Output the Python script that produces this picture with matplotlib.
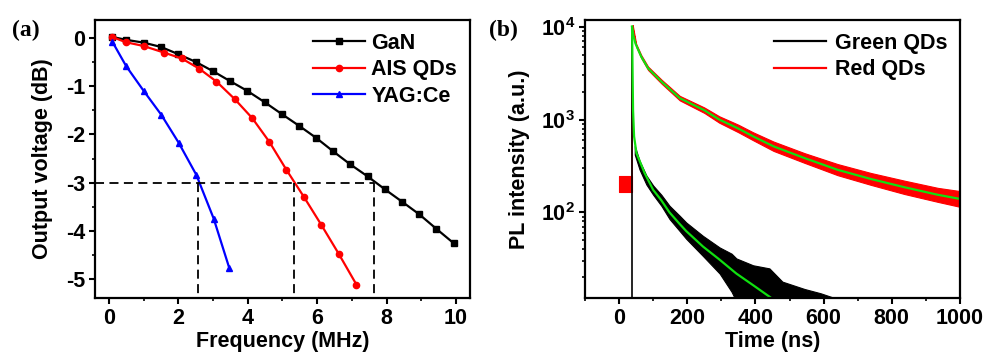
import numpy as np
import matplotlib
matplotlib.use("Agg")
import matplotlib.pyplot as plt
from matplotlib.ticker import MultipleLocator, LogLocator, NullFormatter, FixedLocator

plt.rcParams["font.family"] = ["Liberation Sans", "DejaVu Sans"]
plt.rcParams["font.weight"] = "bold"
plt.rcParams["axes.labelweight"] = "bold"
plt.rcParams["axes.unicode_minus"] = False
plt.rcParams["mathtext.fontset"] = "custom"
plt.rcParams["mathtext.rm"] = "Liberation Sans:bold"
plt.rcParams["mathtext.it"] = "Liberation Sans:bold"
plt.rcParams["mathtext.bf"] = "Liberation Sans:bold"

FS = 15.5

# (a) frequency response
gan_f = [0.09, 0.48, 1.0, 1.5, 2.0, 2.5, 2.99, 3.49, 3.98, 4.49, 4.99, 5.48, 5.97, 6.46,
         6.95, 7.45, 7.95, 8.45, 8.94, 9.43, 9.93]
gan_db = [0.03, -0.03, -0.09, -0.18, -0.33, -0.49, -0.68, -0.89, -1.09, -1.33, -1.58, -1.82,
          -2.07, -2.35, -2.62, -2.87, -3.14, -3.40, -3.66, -3.96, -4.26]
ais_f = [0.09, 0.48, 1.0, 1.6, 2.1, 2.6, 3.1, 3.62, 4.13, 4.62, 5.11, 5.62, 6.12, 6.62, 7.13]
ais_db = [0.03, -0.08, -0.16, -0.30, -0.42, -0.63, -0.90, -1.26, -1.66, -2.15, -2.73, -3.30,
          -3.88, -4.48, -5.12]
yag_f = [0.1, 0.5, 1.0, 1.51, 2.01, 2.52, 3.02, 3.47]
yag_db = [-0.07, -0.58, -1.09, -1.59, -2.17, -2.84, -3.75, -4.78]
cutoff_f = [2.57, 5.33, 7.65]
cutoff_db = -3

# (b) PL decay
red_pre_t = [0, 38]
red_pre_lo = [165, 165]
red_pre_hi = [245, 245]
red_rise_t = [38, 38]
red_rise_v = [200, 10000]
red_t = [40, 50, 65, 85, 124, 178, 250, 294, 350, 393, 453, 544, 641, 739, 837, 935, 1000]
red_lo = [9600, 6100, 4600, 3420, 2450, 1610, 1180, 925, 730, 600, 460, 342, 252, 198, 158, 130, 115]
red_hi = [10400, 6550, 4950, 3720, 2700, 1800, 1350, 1085, 880, 730, 580, 435, 332, 266, 220, 184, 170]
red_fit_t = [38, 42, 48, 65, 85, 124, 178, 250, 294, 350, 393, 453, 544, 641, 739, 837, 935, 1000]
red_fit = [10000, 8000, 6600, 4760, 3570, 2570, 1700, 1260, 1000, 800, 660, 515, 385, 288, 229,
           187, 155, 140]

green_rise_t = [38, 38]
green_rise_v = [1, 10000]
green_t = [46, 60, 80, 100, 124, 148, 178, 197, 246, 295, 330, 344, 393, 441, 479, 544, 591, 632]
green_lo = [420, 290, 200, 155, 118, 85, 63, 52, 34, 22, 14, 11, 10, 10, 10, 10, 10, 10]
green_hi = [520, 360, 250, 195, 155, 118, 92, 78, 56, 42, 36, 32, 27, 25, 18, 15, 13.5, 12]
green_fit_t = [38, 39.5, 41, 44, 51, 75, 100, 124, 148, 178, 197, 246, 295, 344, 393, 441, 460]
green_fit = [10000, 3500, 1260, 660, 435, 265, 175, 135, 100, 75, 63, 43, 31, 22, 16.5, 12.4, 11]

fig = plt.figure(figsize=(9.85, 3.58), dpi=100)
ax1 = fig.add_axes([0.0964, 0.1676, 0.3807, 0.7765])
ax2 = fig.add_axes([0.5939, 0.1676, 0.3807, 0.7765])

ax1.plot(gan_f, gan_db, "-s", color="black", ms=4, lw=1.6, label="GaN")
ax1.plot(ais_f, ais_db, "-o", color="red", ms=4.5, lw=1.6, label="AIS QDs")
ax1.plot(yag_f, yag_db, "-^", color="blue", ms=4.5, lw=1.6, label="YAG:Ce")
ax1.plot([-0.4, max(cutoff_f)], [cutoff_db, cutoff_db], "--", color="black", lw=1.3, dashes=(5, 3))
for f in cutoff_f:
    ax1.plot([f, f], [cutoff_db, -5.4], "--", color="black", lw=1.3, dashes=(5, 3))
ax1.set_xlim(-0.4, 10.4)
ax1.set_ylim(-5.4, 0.38)
ax1.xaxis.set_major_locator(MultipleLocator(2))
ax1.xaxis.set_minor_locator(MultipleLocator(1))
ax1.yaxis.set_major_locator(MultipleLocator(1))
ax1.yaxis.set_minor_locator(MultipleLocator(0.5))
ax1.set_xlabel("Frequency (MHz)", fontsize=FS, labelpad=2)
ax1.set_ylabel("Output voltage (dB)", fontsize=FS, labelpad=9)
ax1.legend(loc="upper right", frameon=False, fontsize=FS, handlelength=2.4,
           handletextpad=0.3, labelspacing=0.25, borderaxespad=0.2)

ax2.fill_between(red_pre_t, red_pre_lo, red_pre_hi, color="red", lw=0.8)
ax2.plot(red_rise_t, red_rise_v, color="red", lw=1.2)
ax2.fill_between(red_t, red_lo, red_hi, color="red", lw=0.8)
ax2.plot(green_rise_t, green_rise_v, color="black", lw=1.2)
ax2.fill_between(green_t, green_lo, green_hi, color="black", lw=0.8)
ax2.plot(red_fit_t, red_fit, color="#10e010", lw=1.6)
ax2.plot(green_fit_t, green_fit, color="#10e010", lw=1.6)
ax2.plot([], [], color="black", lw=1.6, label="Green QDs")
ax2.plot([], [], color="red", lw=1.6, label="Red QDs")
ax2.set_yscale("log")
ax2.set_xlim(-100, 1000)
ax2.set_ylim(12, 11800)
ax2.xaxis.set_major_locator(FixedLocator([0, 200, 400, 600, 800, 1000]))
ax2.xaxis.set_minor_locator(MultipleLocator(100))
ax2.yaxis.set_major_locator(FixedLocator([100, 1000, 10000]))
ax2.yaxis.set_minor_locator(LogLocator(base=10, subs=np.arange(2, 10)))
ax2.yaxis.set_minor_formatter(NullFormatter())
ax2.set_yticklabels([r"$10^2$", r"$10^3$", r"$10^4$"])
ax2.set_xlabel("Time (ns)", fontsize=FS, labelpad=2)
ax2.set_ylabel("PL intensity (a.u.)", fontsize=FS, labelpad=8)
ax2.legend(loc="upper right", frameon=False, fontsize=FS, handlelength=2.4,
           handletextpad=0.4, labelspacing=0.25, borderaxespad=0.2)

for ax in (ax1, ax2):
    for s in ax.spines.values():
        s.set_linewidth(1.6)
    ax.tick_params(which="major", direction="out", length=4, width=1.5, labelsize=FS, pad=3)
    ax.tick_params(which="minor", direction="out", length=2.5, width=1.2)
    for lbl in ax.get_xticklabels() + ax.get_yticklabels():
        lbl.set_fontweight("bold")

fig.text(0.012, 0.9, "(a)", fontsize=17, fontweight="bold", family="Liberation Serif")
fig.text(0.496, 0.9, "(b)", fontsize=17, fontweight="bold", family="Liberation Serif")

fig.savefig("out.png", dpi=100)
